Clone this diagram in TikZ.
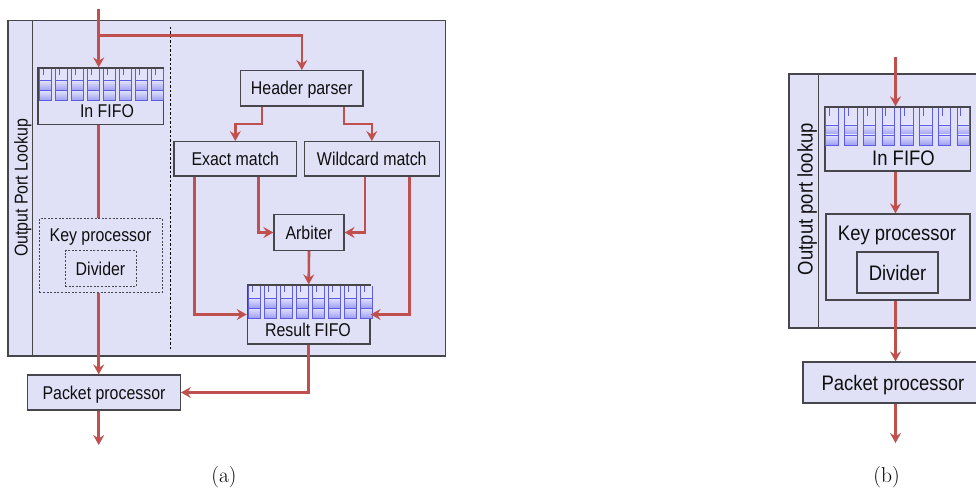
\documentclass[tikz,border=0pt]{standalone}
\usepackage{fontspec}
\usetikzlibrary{arrows.meta,calc}
\newfontfamily\arialA[FakeStretch=0.86]{Liberation Sans}
\newfontfamily\arialB[FakeStretch=0.88]{Liberation Sans}
\newcommand\fa{\arialA\fontsize{18.5}{20}\selectfont}
\newcommand\fb{\arialB\fontsize{21}{23}\selectfont}
\newcommand\fcap{\fontsize{21.5}{24}\selectfont}
\definecolor{boxfill}{RGB}{224,225,246}
\definecolor{boxdraw}{RGB}{70,70,76}
\definecolor{arr}{RGB}{192,80,77}
\definecolor{fifoline}{RGB}{92,92,228}
\definecolor{fifolight}{RGB}{226,226,250}
\definecolor{fifotop}{RGB}{226,226,253}
\definecolor{fifobot}{RGB}{158,158,242}
\definecolor{txt}{RGB}{15,15,15}
\tikzset{
  box/.style={draw=boxdraw, line width=1.2pt, fill=boxfill, inner sep=0pt},
  dbox/.style={draw=boxdraw, line width=0.9pt, dash pattern=on 2pt off 1.6pt, inner sep=0pt},
  ta/.style={font=\fa, text=txt, inner sep=0pt, text height=13.2pt, text depth=0pt},
  tb/.style={font=\fb, text=txt, inner sep=0pt, text height=15pt, text depth=0pt},
  link/.style={draw=arr, line width=2.6pt},
  flow/.style={link, -{Stealth[length=10pt,width=11pt,inset=3.5pt]}},
  sep/.style={draw=black, line width=0.8pt, dash pattern=on 2.5pt off 2pt},
  divline/.style={draw=boxdraw, line width=1.2pt}
}
% #1 x0, #2 ytop, #3 pitch, #4 width, #5 upper height, #6 cell height
\newcommand\fifocells[6]{%
  \foreach \i in {0,...,7}{%
    \pgfmathsetmacro\xx{#1+\i*#3}%
    \fill[fifolight] (\xx,#2) rectangle ++(#4,#5);
    \shade[top color=fifotop,bottom color=fifobot] (\xx,#2+#5) rectangle ++(#4,#6);
    \shade[top color=fifotop,bottom color=fifobot] (\xx,#2+#5+#6) rectangle ++(#4,#6);
    \draw[fifoline, line width=0.9pt] (\xx,#2) -- (\xx,#2+#5+2*#6) -- (\xx+#4,#2+#5+2*#6) -- (\xx+#4,#2);
    \draw[fifoline, line width=0.9pt] (\xx,#2+#5) -- ++(#4,0) (\xx,#2+#5+#6) -- ++(#4,0);
    \draw[fifoline, line width=0.7pt] (\xx+0.3*#4,#2) -- (\xx+0.3*#4,#2+0.5*#5);
  }%
}
\begin{document}
\begin{tikzpicture}[x=1pt,y=-1pt]
\useasboundingbox (0,0) rectangle (976,489);
\clip (0,0) rectangle (976,489);

% ---------------- panel (a) ----------------
\node[box, minimum width=437.5pt, minimum height=335.5pt] (outA) at (226.75,188.25) {};
\draw[divline] ([xshift=25.3pt]outA.north west) -- ([xshift=25.3pt]outA.south west);
\node[ta, rotate=90] (lblA) at (21,188) {Output Port Lookup};
\draw[sep] (170.7,27) -- (170.7,350);

\node[box, minimum width=125.5pt, minimum height=56.5pt] (inA) at (100.75,96.25) {};
\fifocells{39.3}{68.6}{16}{12.5}{12}{10}
\node[ta] (inAt) at (107,111) {In FIFO};

\node[dbox, minimum width=123pt, minimum height=74pt] (keyA) at (100.8,255.3) {};
\node[ta] (keyAt) at (100.5,235) {Key processor};
\node[dbox, minimum width=71pt, minimum height=36pt] (divA) at (100.5,268.7) {};
\node[ta] (divAt) at (100.5,269.3) {Divider};

\node[box, ta, minimum width=152.6pt, minimum height=35pt] (pktA) at (104,392.5) {Packet processor};

\node[box, ta, minimum width=122.3pt, minimum height=35.3pt] (hp) at (301.8,88.3) {Header parser};
\node[box, ta, minimum width=122.7pt, minimum height=34.3pt] (ex) at (235.3,158.8) {Exact match};
\node[box, ta, minimum width=135pt, minimum height=34.3pt] (wc) at (371.8,158.8) {Wildcard match};
\node[box, ta, minimum width=70pt, minimum height=35.6pt] (arb) at (309,232.5) {Arbiter};

\node[box, minimum width=122.7pt, minimum height=59pt] (res) at (308.7,314.5) {};
\fifocells{248.3}{285.6}{16}{12.5}{12.5}{10}
\node[ta] (rest) at (308,330) {Result FIFO};

\coordinate (inAtop) at (98.7,9.5);
\coordinate (brA) at (98.7,35.7);
\coordinate (outAend) at (98.7,445);
\draw[flow] (inAtop) -- (inAtop |- inA.north);
\draw[flow] (brA) -| (hp.north);
\draw[link] (inA.south -| inAtop) -- (keyA.north -| inAtop);
\draw[flow] (keyA.south -| inAtop) -- (pktA.north -| inAtop);
\draw[flow] (pktA.south -| inAtop) -- (outAend);

\draw[flow] ([xshift=-40pt]hp.south) -- ++(0,17.3) -| (ex.north);
\draw[flow] ([xshift=42pt]hp.south) -- ++(0,17.3) -| (wc.north);
\draw[flow] ([xshift=-41pt]ex.south) |- (res.west);
\draw[flow] ([xshift=23pt]ex.south) |- (arb.west);
\draw[flow] ([xshift=-6.8pt]wc.south) |- (arb.east);
\draw[flow] ([xshift=37.5pt]wc.south) |- (res.east);
\draw[flow] (arb.south) -- (res.north);
\draw[flow] (res.south) |- (pktA.east);

\node[font=\fcap, inner sep=0pt] (capA) at (224,477) {(a)};

% ---------------- panel (b) ----------------
\node[box, minimum width=240pt, minimum height=254pt] (outB) at (909,201) {};
\draw[divline] ([xshift=30pt]outB.north west) -- ([xshift=30pt]outB.south west);
\node[tb, rotate=90] (lblB) at (805,199) {Output port lookup};

\node[box, minimum width=145.3pt, minimum height=64pt] (inB) at (897.7,139) {};
\fifocells{825.7}{107.6}{18.75}{12.5}{17.4}{10}
\node[tb] (inBt) at (903.5,157.5) {In FIFO};

\node[box, minimum width=144pt, minimum height=86pt] (keyB) at (898,257) {};
\node[tb] (keyBt) at (897,233) {Key processor};
\node[box, tb, minimum width=81pt, minimum height=41pt] (divB) at (897.5,272.5) {Divider};

\node[box, tb, minimum width=180pt, minimum height=41pt] (pktB) at (893,382.5) {Packet processor};

\coordinate (inBtop) at (895.5,57);
\coordinate (outBend) at (895.5,443);
\draw[flow] (inBtop) -- (inBtop |- inB.north);
\draw[flow] (inB.south -| inBtop) -- (keyB.north -| inBtop);
\draw[flow] (keyB.south -| inBtop) -- (pktB.north -| inBtop);
\draw[flow] (pktB.south -| inBtop) -- (outBend);

\node[font=\fcap, inner sep=0pt] (capB) at (886.5,477) {(b)};
\end{tikzpicture}
\end{document}
